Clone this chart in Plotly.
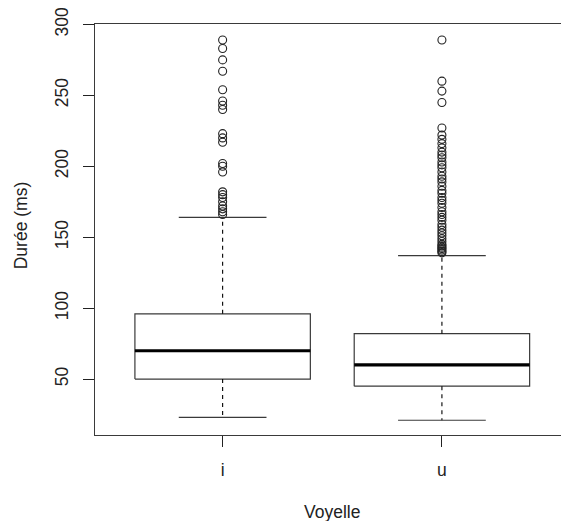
import plotly.graph_objects as go

# Data
categories = ["i", "u"]
lower_whisker = [23, 21]
q1 = [50, 45]
median = [70, 60]
q3 = [96, 82]
upper_whisker = [164, 137]
outliers_i = [289, 283, 275, 267, 254, 246, 243, 240, 223, 220, 217, 202, 200, 196,
              182, 180, 178, 175, 172, 170, 168, 166]
outliers_u = [289, 260, 253, 245, 227, 222, 219, 216, 213, 210, 208, 206, 203, 201,
              199, 196, 193, 191, 189, 186, 183, 181, 178, 176, 174, 171, 168, 166,
              164, 162, 159, 157, 155, 153, 151, 149, 147, 145, 144, 143, 142, 141,
              140, 139]
y_ticks = [50, 100, 150, 200, 250, 300]

FONT = "Liberation Sans"
FS = 17.5
BOXW = 0.8
CAPW = 0.4
LINE = "#3a3a3a"

fig = go.Figure()
outliers = [outliers_i, outliers_u]
for k, cat in enumerate(categories):
    x = k + 1
    l, r = x - BOXW / 2, x + BOXW / 2
    fig.add_trace(go.Scatter(x=[l, r, r, l, l], y=[q1[k], q1[k], q3[k], q3[k], q1[k]],
                             mode="lines", line=dict(color=LINE, width=1.2),
                             hoverinfo="skip", showlegend=False))
    fig.add_trace(go.Scatter(x=[l, r], y=[median[k], median[k]], mode="lines",
                             line=dict(color="black", width=3.2),
                             hoverinfo="skip", showlegend=False))
    fig.add_trace(go.Scatter(x=[x, x, None, x, x],
                             y=[q3[k], upper_whisker[k], None, q1[k], lower_whisker[k]],
                             mode="lines", line=dict(color="black", width=1.1, dash="4px,4px"),
                             hoverinfo="skip", showlegend=False))
    fig.add_trace(go.Scatter(x=[x - CAPW / 2, x + CAPW / 2, None, x - CAPW / 2, x + CAPW / 2],
                             y=[upper_whisker[k], upper_whisker[k], None,
                                lower_whisker[k], lower_whisker[k]],
                             mode="lines", line=dict(color=LINE, width=1.2),
                             hoverinfo="skip", showlegend=False))
    fig.add_trace(go.Scatter(x=[x] * len(outliers[k]), y=outliers[k], mode="markers",
                             marker=dict(symbol="circle-open", size=8, color="#222",
                                         line=dict(width=1.1)),
                             showlegend=False))

fig.update_layout(
    width=561, height=521,
    margin=dict(l=95, r=0, t=24, b=86),
    plot_bgcolor="white", paper_bgcolor="white",
    font=dict(family=FONT, size=FS, color="#222"),
    xaxis=dict(range=[0.418, 2.543], tickvals=[1, 2], ticktext=categories,
               showgrid=False, zeroline=False, showline=True, mirror=True,
               linecolor=LINE, linewidth=1.2, ticks="outside", ticklen=11,
               tickcolor="#222", tickwidth=1.2, ticklabelstandoff=8,
               tickfont=dict(color="#222")),
    yaxis=dict(range=[10.6, 300.3], tickvals=y_ticks, tickangle=-90,
               showgrid=False, zeroline=False, showline=True, mirror=False,
               linecolor=LINE, linewidth=1.2, ticks="outside", ticklen=11,
               tickcolor="#222", tickwidth=1.2, ticklabelstandoff=8,
               tickfont=dict(color="#222")),
    annotations=[
        dict(text="Voyelle", x=1.5, xref="x", y=-0.187, yref="paper",
             showarrow=False, xanchor="center", yanchor="middle",
             font=dict(family=FONT, size=FS, color="#222")),
        dict(text="Durée (ms)", x=-0.159, xref="paper", y=0.51, yref="paper",
             showarrow=False, textangle=-90, xanchor="center", yanchor="middle",
             font=dict(family=FONT, size=FS, color="#222")),
    ],
)

fig.write_html("out.html", config={"displayModeBar": False},
               post_script="document.body.style.margin='0px';document.body.style.overflow='hidden';")
